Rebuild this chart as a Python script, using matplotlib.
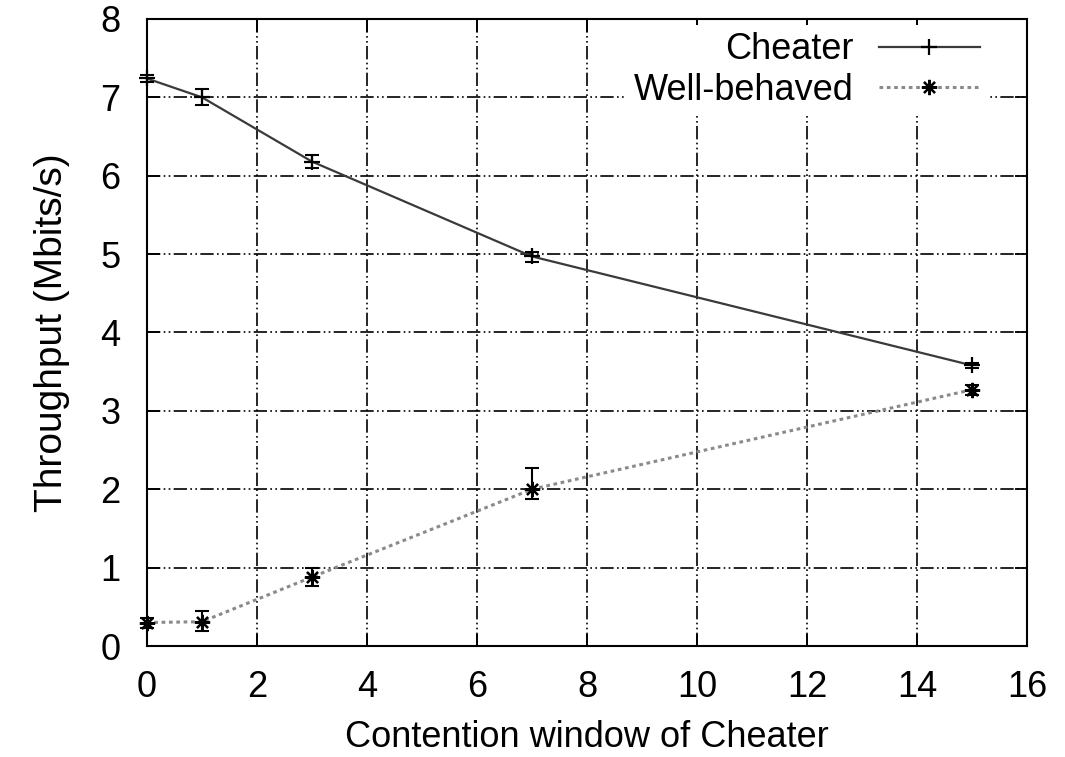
import matplotlib
matplotlib.use("Agg")
import numpy as np
import matplotlib.pyplot as plt

plt.rcParams['font.family'] = ['Liberation Sans', 'DejaVu Sans']

# contention window of the cheater
cw = [0, 1, 3, 7, 15]

# cheater throughput (Mbits/s) with lower / upper error
cheater = [7.24, 7.00, 6.18, 4.97, 3.58]
cheater_lo = [0.04, 0.10, 0.08, 0.07, 0.03]
cheater_hi = [0.04, 0.10, 0.08, 0.06, 0.03]

# well-behaved throughput (Mbits/s) with lower / upper error
good = [0.30, 0.31, 0.88, 2.00, 3.27]
good_lo = [0.07, 0.12, 0.11, 0.13, 0.07]
good_hi = [0.06, 0.14, 0.11, 0.27, 0.06]

fig = plt.figure(figsize=(10.65, 7.57), dpi=100)
ax = fig.add_axes([0.138, 0.1466, 0.8263, 0.8284])

grid_ls = (0, (8, 2, 1, 2, 1, 2))
ax.set_xlim(0, 16)
ax.set_ylim(0, 8)
ax.set_xticks(range(0, 17, 2))
ax.set_yticks(range(0, 9))
ax.grid(True, color='black', linestyle=grid_ls, linewidth=1.2)
ax.set_axisbelow(True)

ax.plot(cw, cheater, color='#3a3a3a', lw=1.6, marker='+', ms=12, mew=1.6,
        mec='black', label='Cheater', clip_on=False)
ax.errorbar(cw, cheater, yerr=[cheater_lo, cheater_hi], fmt='none',
            ecolor='black', elinewidth=1.5, capsize=5, capthick=1.5, clip_on=False)

ax.plot(cw, good, color='#8a8a8a', lw=2.2, ls=(0, (1.2, 1.2)), marker=(8, 2, 0),
        ms=11, mew=1.6, mec='black', label='Well-behaved', clip_on=False)
ax.errorbar(cw, good, yerr=[good_lo, good_hi], fmt='none',
            ecolor='black', elinewidth=1.5, capsize=5, capthick=1.5, clip_on=False)

ax.tick_params(direction='in', length=9, width=1.3, top=True, right=True,
               labelsize=26)
ax.tick_params(axis='x', pad=17)
ax.tick_params(axis='y', pad=19)
for s in ax.spines.values():
    s.set_linewidth(1.5)

ax.set_xlabel('Contention window of Cheater', fontsize=26, labelpad=11)
ax.set_ylabel('Throughput (Mbits/s)', fontsize=28, labelpad=22)

leg = ax.legend(loc='upper right', bbox_to_anchor=(0.9545, 0.99),
                markerfirst=False, fontsize=26, frameon=True,
                framealpha=1, edgecolor='none', facecolor='white',
                handlelength=2.8, borderpad=0.2, labelspacing=0.15,
                handletextpad=0.7, borderaxespad=0, fancybox=False)
for t in leg.get_texts():
    t.set_ha('right')

fig.savefig('out.png', dpi=100)
